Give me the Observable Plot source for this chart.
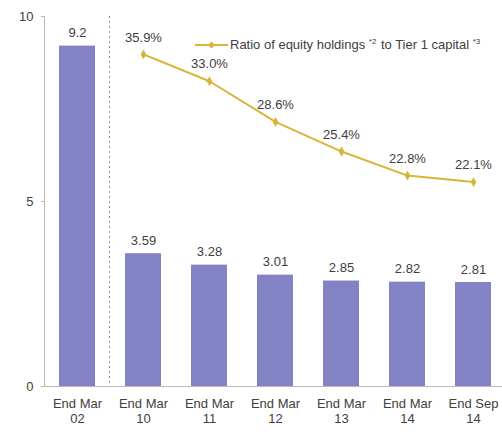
<!DOCTYPE html>
<html>
<head>
<meta charset="utf-8">
<script src="https://cdn.jsdelivr.net/npm/d3@7"></script>
<script src="https://cdn.jsdelivr.net/npm/@observablehq/plot@0.6"></script>
<style>
  html, body { margin: 0; padding: 0; background: #fff; }
  #wrap { position: relative; width: 502px; height: 434px; font-family: "Liberation Sans", Arial, sans-serif; }
  #legend { position: absolute; left: 195px; top: 37px; display: flex; align-items: center; font-size: 13px; color: #404040; white-space: nowrap; }
  #legend span { margin-left: 2px; }
  #legend sup { font-size: 8px; vertical-align: 5px; margin-right: 1px; }
</style>
</head>
<body>
<div id="wrap">
  <div id="chart"></div>
  <div id="legend">
    <svg width="33" height="12"><line x1="0" y1="6" x2="33" y2="6" stroke="#d8b536" stroke-width="2"/><path d="M16.5 2.5 L20 6 L16.5 9.5 L13 6 Z" fill="#d8b536"/></svg>
    <span>Ratio of equity holdings <sup>*2</sup> to Tier 1 capital <sup>*3</sup></span>
  </div>
</div>
<script>
// Periods shown along the bottom
const periods = ["End Mar\n02", "End Mar\n10", "End Mar\n11", "End Mar\n12", "End Mar\n13", "End Mar\n14", "End Sep\n14"];
// Equity holdings (bars), left axis
const holdings = [9.2, 3.59, 3.28, 3.01, 2.85, 2.82, 2.81];
const holdingLabels = ["9.2", "3.59", "3.28", "3.01", "2.85", "2.82", "2.81"];
// Ratio of equity holdings to Tier 1 capital (line, %), from End Mar 10 onward
const ratioPeriods = ["End Mar\n10", "End Mar\n11", "End Mar\n12", "End Mar\n13", "End Mar\n14", "End Sep\n14"];
const ratios = [35.9, 33.0, 28.6, 25.4, 22.8, 22.1];
// Left axis ticks
const yTicks = [0, 5, 10];
// Divider drawn after the first period
const dividerAfter = ["End Mar\n02"];

const bars = periods.map((p, i) => ({period: p, value: holdings[i], label: holdingLabels[i]}));
// The ratio axis spans 0–40% over the same height as 0–10 on the left axis
const ratioScale = 10 / 40;
const line = ratioPeriods.map((p, i) => ({period: p, ratio: ratios[i], y: ratios[i] * ratioScale, label: ratios[i].toFixed(1) + "%"}));

const barColor = "#8282c5";
const lineColor = "#d8b536";
const textColor = "#404040";

const chart = Plot.plot({
  width: 502,
  height: 434,
  marginTop: 16,
  marginBottom: 48,
  marginLeft: 44,
  marginRight: 0,
  style: {fontFamily: "Liberation Sans, Arial, sans-serif", fontSize: "13px", color: textColor, background: "#fff"},
  x: {domain: periods, range: [44, 506], paddingInner: 0.45, paddingOuter: 0.225, label: null},
  y: {domain: [0, 10], label: null},
  marks: [
    Plot.frame({anchor: "left", stroke: "#b8b8b8"}),
    Plot.axisY({ticks: yTicks, tickSize: 3, tickPadding: 8, stroke: "#b8b8b8", fill: textColor, fontSize: 13, label: null}),
    Plot.axisX({tickSize: 0, tickPadding: 10, fill: textColor, fontSize: 13, lineHeight: 1.2, label: null}),
    Plot.barY(bars, {x: "period", y: "value", fill: barColor}),
    Plot.ruleY([0], {stroke: "#b8b8b8"}),
    Plot.ruleX(dividerAfter, {x: d => d, dx: 32, stroke: "#8a8fb0", strokeDasharray: "2,3", strokeWidth: 1}),
    Plot.text(bars, {x: "period", y: "value", text: "label", dy: -13, fill: textColor, fontSize: 13}),
    Plot.line(line, {x: "period", y: "y", stroke: lineColor, strokeWidth: 2}),
    Plot.dot(line, {x: "period", y: "y", symbol: "diamond", r: 3, fill: lineColor}),
    Plot.text(line, {x: "period", y: "y", text: "label", dy: -17, fill: textColor, fontSize: 13})
  ]
});
document.getElementById("chart").appendChild(chart);
</script>
</body>
</html>
